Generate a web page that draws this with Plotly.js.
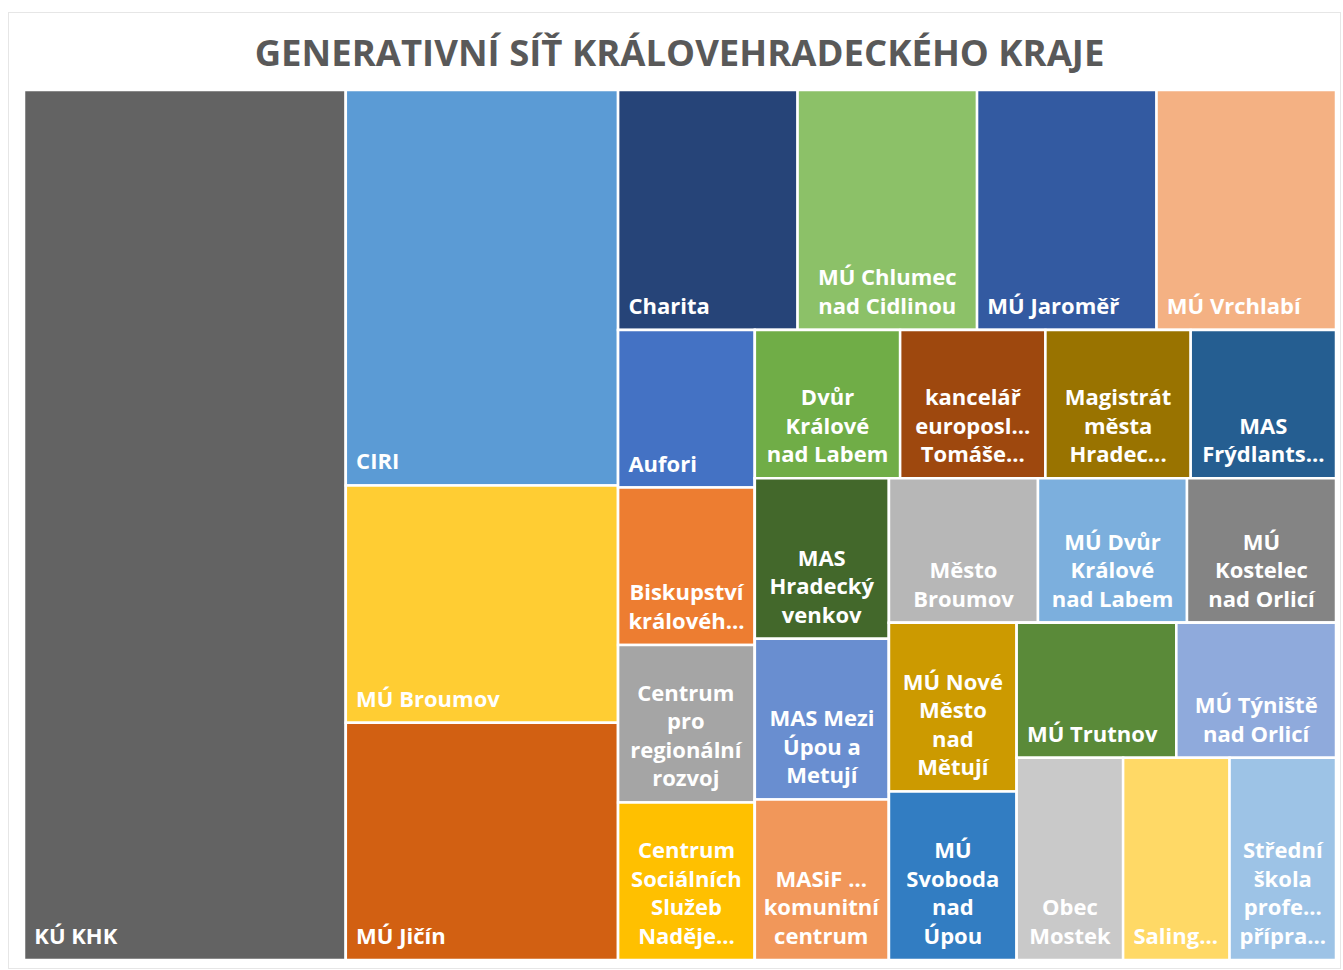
<!DOCTYPE html>
<html><head><meta charset="utf-8">
<script src="https://cdn.plot.ly/plotly-3.0.1.min.js"></script>
<style>
html,body{margin:0;padding:0;background:#fff;}
#chart{position:absolute;left:0;top:0;width:1343px;height:970px;}
#frame{position:absolute;left:8px;top:12px;width:1331px;height:955px;border:1px solid #e6e6e6;pointer-events:none;}
</style></head><body>
<div id="chart"></div><div id="frame"></div>
<script>
// Leaves (data order of the source sheet)
const names = ['Aufori','Biskupství královéhradecké','Centrum pro regionální rozvoj','Centrum Sociálních Služeb Naděje','CIRI','Dvůr Králové nad Labem','Charita','kancelář europoslance Tomáše','KÚ KHK','Magistrát města Hradec Králové','MAS Frýdlantsko','MAS Hradecký venkov','MAS Mezi Úpou a Metují','MASiF komunitní centrum','Město Broumov','MÚ Broumov','MÚ Dvůr Králové nad Labem','MÚ Chlumec nad Cidlinou','MÚ Jaroměř','MÚ Jičín','MÚ Kostelec nad Orlicí','MÚ Nové Město nad Metují','MÚ Svoboda nad Úpou','MÚ Trutnov','MÚ Týniště nad Orlicí','MÚ Vrchlabí','Obec Mostek','Saling','Střední škola profesní přípravy'];
const shown = ['Aufori','Biskupství<br>královéh...','Centrum<br>pro<br>regionální<br>rozvoj','Centrum<br>Sociálních<br>Služeb<br>Naděje...','CIRI','Dvůr<br>Králové<br>nad Labem','Charita','kancelář<br>europosl...<br>Tomáše...','KÚ KHK','Magistrát<br>města<br>Hradec...','MAS<br>Frýdlants...','MAS<br>Hradecký<br>venkov','MAS Mezi<br>Úpou a<br>Metují','MASiF ...<br>komunitní<br>centrum','Město<br>Broumov','MÚ Broumov','MÚ Dvůr<br>Králové<br>nad Labem','MÚ Chlumec<br>nad Cidlinou','MÚ Jaroměř','MÚ Jičín','MÚ<br>Kostelec<br>nad Orlicí','MÚ Nové<br>Město<br>nad<br>Mětují','MÚ<br>Svoboda<br>nad<br>Úpou','MÚ Trutnov','MÚ Týniště<br>nad Orlicí','MÚ Vrchlabí','Obec<br>Mostek','Saling...','Střední<br>škola<br>profe...<br>přípra...'];
const values = [1,1,1,1,5,1,2,1,13,1,1,1,1,1,1,3,1,2,2,3,1,1,1,1,1,2,1,1,1];
const colors = ['#4472C4','#ED7D31','#A5A5A5','#FFC000','#5B9BD5','#70AD47','#264478','#9E480E','#636363','#997300','#255E91','#43682B','#698ED0','#F1975A','#B7B7B7','#FFCD33','#7CAFDD','#8CC168','#335AA1','#D26012','#848484','#CC9A00','#327DC2','#5A8A39','#8FAADC','#F4B183','#C9C9C9','#FFD966','#9DC3E6'];
// strip grouping used by the tiling (Excel-style strips)
const groupOf = ['Col4','Col4','Col4','Col4','G1','Row5','Row1','Row5','root','Row5','Row5','Col6','Col6','Col6','Row7','G1','Row7','Row1','Row1','G1','Row7','Col8','Col8','Row9','Row9','Row1','Row10','Row10','Row10'];
const groupIds = ['root','G1','R1','Row1','R2','Col4','R3','Row5','R4','Col6','R5','Row7','R6','Col8','R7','Row9','Row10'];
const groupParents = ['','root','root','R1','R1','R2','R2','R3','R3','R4','R4','R5','R5','R6','R6','R7','R7'];

const ids = names.concat(groupIds);
const parents = groupOf.concat(groupParents);
const vals = values.concat(groupIds.map(() => 0));
const labels = names.concat(groupIds.map(() => ''));
const multi = shown.map(s => s.indexOf('<br>') >= 0);
// invisible tall spacer raising the label baseline like Excel's bottom inset
const lift = '<span style="font-size:46px">\u200A</span>';
const textSingle = shown.map((s, i) => multi[i] ? '' : '\u2009\u2009' + s + lift).concat(groupIds.map(() => ''));
const textMulti = shown.map((s, i) => {
  if (!multi[i]) return '';
  const k = s.lastIndexOf('<br>') + 4;
  return s.slice(0, k) + lift + s.slice(k) + lift;
}).concat(groupIds.map(() => ''));
const fills = colors.concat(groupIds.map(() => '#ffffff'));
const clear = ids.map(() => 'rgba(0,0,0,0)');

const font = {family: 'Open Sans, sans-serif', size: 22, color: '#ffffff', weight: 'bold'};
const common = {
  type: 'treemap', ids: ids, labels: labels, parents: parents, values: vals,
  branchvalues: 'remainder', sort: false,
  tiling: {packing: 'slice-dice', pad: 0},
  pathbar: {visible: false},
  texttemplate: '%{text}', hoverinfo: 'skip',
  textfont: font, insidetextfont: font,
  domain: {x: [0, 1], y: [0, 1]}
};
const traceA = Object.assign({}, common, {
  text: textSingle, textposition: 'bottom left',
  marker: {colors: fills, line: {color: '#ffffff', width: 2.5}, pad: {t: 0, l: 0, r: 0, b: 0}}
});
const traceB = Object.assign({}, common, {
  text: textMulti, textposition: 'bottom center',
  marker: {colors: clear, line: {color: 'rgba(0,0,0,0)', width: 0}, pad: {t: 0, l: 0, r: 0, b: 0}}
});

const layout = {
  width: 1343, height: 970,
  paper_bgcolor: 'rgba(0,0,0,0)', plot_bgcolor: '#ffffff',
  margin: {l: 24, r: 7, t: 90, b: 10},
  title: {text: 'GENERATIVNÍ SÍŤ KRÁLOVEHRADECKÉHO KRAJE', x: 0.506, xanchor: 'center',
          y: 1 - 53 / 970, yanchor: 'middle', yref: 'container',
          font: {family: 'Open Sans, sans-serif', size: 36.5, color: '#595959', weight: 'bold'}},
  showlegend: false
};
Plotly.newPlot('chart', [traceA, traceB], layout, {displayModeBar: false, staticPlot: true});
</script>
</body></html>
